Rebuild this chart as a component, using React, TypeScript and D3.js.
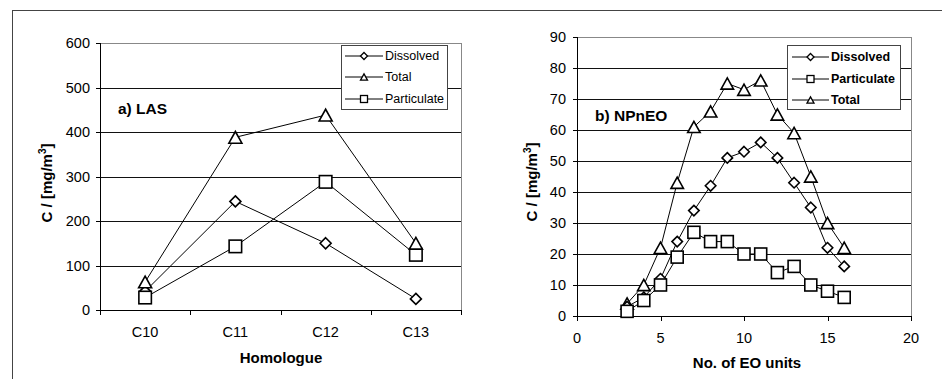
import React from "react";
import * as d3 from "d3";

const lasCategories = ["C10", "C11", "C12", "C13"];
const lasDissolved = [42, 244, 150, 25];
const lasTotal = [63, 388, 438, 150];
const lasParticulate = [28, 143, 288, 124];
const lasYTicks = [0, 100, 200, 300, 400, 500, 600];

const eoUnits = [3, 4, 5, 6, 7, 8, 9, 10, 11, 12, 13, 14, 15, 16];
const npDissolved = [3, 6, 12, 24, 34, 42, 51, 53, 56, 51, 43, 35, 22, 16];
const npParticulate = [1.5, 5, 10, 19, 27, 24, 24, 20, 20, 14, 16, 10, 8, 6];
const npTotal = [4, 10, 22, 43, 61, 66, 75, 73, 76, 65, 59, 45, 30, 22];
const npYTicks = [0, 10, 20, 30, 40, 50, 60, 70, 80, 90];
const npXTicks = [0, 5, 10, 15, 20];

const FONT = "'Liberation Sans', Arial, sans-serif";
const TICK_FS = 14.5;
const TITLE_FS = 15;

type MarkerKind = "diamond" | "square" | "triangle";

function Marker({ kind, x, y, s, sw }: { kind: MarkerKind; x: number; y: number; s: number; sw: number }) {
  const common = { fill: "#fff", stroke: "#000", strokeWidth: sw };
  if (kind === "square") {
    return <rect x={x - s / 2} y={y - s / 2} width={s} height={s} {...common} />;
  }
  if (kind === "diamond") {
    const r = s / 2;
    return <path d={`M${x},${y - r}L${x + r},${y}L${x},${y + r}L${x - r},${y}Z`} {...common} />;
  }
  const h = s * 0.9;
  return <path d={`M${x},${y - h / 2}L${x + s / 2},${y + h / 2}L${x - s / 2},${y + h / 2}Z`} {...common} />;
}

function Legend({ x0, y0, w, h, entries, bold, lineX0, lineX1, textX, rowY }: any) {
  return (
    <g>
      <rect x={x0} y={y0} width={w} height={h} fill="#fff" stroke="#444" strokeWidth={1} />
      {entries.map((e: any, i: number) => (
        <g key={e.label}>
          <line x1={lineX0} x2={lineX1} y1={rowY[i]} y2={rowY[i]} stroke="#000" strokeWidth={1} />
          <Marker kind={e.kind} x={(lineX0 + lineX1) / 2} y={rowY[i]} s={7} sw={1.3} />
          <text x={textX} y={rowY[i]} dy="0.35em" fontSize={12.5} fontWeight={bold ? "bold" : "normal"} fontFamily={FONT} fill="#000">
            {e.label}
          </text>
        </g>
      ))}
    </g>
  );
}

function YTitle({ x, y }: { x: number; y: number }) {
  return (
    <text transform={`translate(${x},${y}) rotate(-90)`} textAnchor="middle" dy="0.35em" fontSize={TITLE_FS} fontWeight="bold" fontFamily={FONT}>
      C / [mg/m<tspan dy="-6" fontSize={10}>3</tspan><tspan dy="6">]</tspan>
    </text>
  );
}

function PanelA() {
  const x = d3.scaleBand<string>().domain(lasCategories).range([100, 461]);
  const y = d3.scaleLinear().domain([0, 600]).range([310, 43]);
  const cx = (c: string) => (x(c) as number) + x.bandwidth() / 2;
  const line = d3.line<[number, number]>().x((d) => d[0]).y((d) => d[1]);
  const series: { vals: number[]; kind: MarkerKind }[] = [
    { vals: lasDissolved, kind: "diamond" },
    { vals: lasParticulate, kind: "square" },
    { vals: lasTotal, kind: "triangle" },
  ];
  const bounds = [...lasCategories.map((c) => x(c) as number), 461];
  return (
    <g>
      {lasYTicks.map((t) => (
        <g key={t}>
          {t > 0 && (
            <line x1={100} x2={461} y1={Math.round(y(t)) + 0.5} y2={Math.round(y(t)) + 0.5} stroke={t === 600 ? "#888" : "#111"} strokeWidth={1} />
          )}
          <line x1={96} x2={100} y1={Math.round(y(t)) + 0.5} y2={Math.round(y(t)) + 0.5} stroke="#000" />
          <text x={90} y={y(t)} dy="0.35em" textAnchor="end" fontSize={TICK_FS} fontFamily={FONT}>{t}</text>
        </g>
      ))}
      <line x1={461.5} x2={461.5} y1={43} y2={310} stroke="#888" />
      <line x1={100.5} x2={100.5} y1={43} y2={311} stroke="#000" />
      <line x1={100} x2={462} y1={310.5} y2={310.5} stroke="#000" />
      {bounds.map((b, i) => (
        <line key={i} x1={Math.round(b) + 0.5} x2={Math.round(b) + 0.5} y1={310} y2={315} stroke="#000" />
      ))}
      {lasCategories.map((c) => (
        <text key={c} x={cx(c)} y={332} dy="0.35em" textAnchor="middle" fontSize={TICK_FS} fontFamily={FONT}>{c}</text>
      ))}
      <text x={281} y={358} dy="0.35em" textAnchor="middle" fontSize={TITLE_FS} fontWeight="bold" fontFamily={FONT}>Homologue</text>
      <YTitle x={47} y={183} />
      <text x={118} y={109} dy="0.35em" fontSize={15.5} fontWeight="bold" fontFamily={FONT}>a) LAS</text>
      {series.map((s, si) => (
        <path key={si} d={line(s.vals.map((v, i) => [cx(lasCategories[i]), y(v)])) || ""} fill="none" stroke="#000" strokeWidth={1} />
      ))}
      {series.map((s, si) =>
        s.vals.map((v, i) => (
          <Marker key={`${si}-${i}`} kind={s.kind} x={cx(lasCategories[i])} y={y(v)} s={s.kind === "diamond" ? 11 : s.kind === "square" ? 12.5 : 13} sw={1.6} />
        ))
      )}
      <Legend
        x0={341.5} y0={45.5} w={106} h={64}
        entries={[{ label: "Dissolved", kind: "diamond" }, { label: "Total", kind: "triangle" }, { label: "Particulate", kind: "square" }]}
        bold={false} lineX0={345} lineX1={383} textX={385} rowY={[56, 77, 99]}
      />
    </g>
  );
}

function PanelB() {
  const x = d3.scaleLinear().domain([0, 20]).range([577, 911]);
  const y = d3.scaleLinear().domain([0, 90]).range([316, 37]);
  const line = d3.line<[number, number]>().x((d) => d[0]).y((d) => d[1]);
  const series: { vals: number[]; kind: MarkerKind }[] = [
    { vals: npTotal, kind: "triangle" },
    { vals: npDissolved, kind: "diamond" },
    { vals: npParticulate, kind: "square" },
  ];
  return (
    <g>
      {npYTicks.map((t) => (
        <g key={t}>
          {t > 0 && (
            <line x1={577} x2={911} y1={Math.round(y(t)) + 0.5} y2={Math.round(y(t)) + 0.5} stroke={t === 90 ? "#888" : "#111"} strokeWidth={1} />
          )}
          <line x1={573} x2={577} y1={Math.round(y(t)) + 0.5} y2={Math.round(y(t)) + 0.5} stroke="#000" />
          <text x={566} y={y(t)} dy="0.35em" textAnchor="end" fontSize={TICK_FS} fontFamily={FONT}>{t}</text>
        </g>
      ))}
      <line x1={911.5} x2={911.5} y1={37} y2={316} stroke="#888" />
      <line x1={577.5} x2={577.5} y1={37} y2={317} stroke="#000" />
      <line x1={577} x2={912} y1={316.5} y2={316.5} stroke="#000" />
      {npXTicks.map((t) => (
        <g key={t}>
          <line x1={Math.round(x(t)) + 0.5} x2={Math.round(x(t)) + 0.5} y1={316} y2={321} stroke="#000" />
          <text x={x(t)} y={338} dy="0.35em" textAnchor="middle" fontSize={TICK_FS} fontFamily={FONT}>{t}</text>
        </g>
      ))}
      <text x={747} y={363} dy="0.35em" textAnchor="middle" fontSize={TITLE_FS} fontWeight="bold" fontFamily={FONT}>No. of EO units</text>
      <YTitle x={532} y={182} />
      <text x={595} y={116} dy="0.35em" fontSize={15.5} fontWeight="bold" fontFamily={FONT}>b) NPnEO</text>
      {series.map((s, si) => (
        <path key={si} d={line(s.vals.map((v, i) => [x(eoUnits[i]), y(v)])) || ""} fill="none" stroke="#000" strokeWidth={1} />
      ))}
      {series.map((s, si) =>
        s.vals.map((v, i) => (
          <Marker key={`${si}-${i}`} kind={s.kind} x={x(eoUnits[i])} y={y(v)} s={s.kind === "diamond" ? 10.5 : s.kind === "square" ? 12 : 12.5} sw={1.6} />
        ))
      )}
      <Legend
        x0={787.5} y0={45.5} w={113} h={64}
        entries={[{ label: "Dissolved", kind: "diamond" }, { label: "Particulate", kind: "square" }, { label: "Total", kind: "triangle" }]}
        bold={true} lineX0={792} lineX1={829} textX={831} rowY={[57, 79, 100]}
      />
    </g>
  );
}

export default function App() {
  return (
    <svg width={942} height={379} style={{ position: "absolute", left: 0, top: 0, background: "#fff" }}>
      <rect x={0} y={0} width={942} height={379} fill="#fff" />
      <line x1={12} x2={942} y1={10.5} y2={10.5} stroke="#444" strokeWidth={1} />
      <line x1={12.5} x2={12.5} y1={10} y2={379} stroke="#444" strokeWidth={1} />
      <PanelA />
      <PanelB />
    </svg>
  );
}
